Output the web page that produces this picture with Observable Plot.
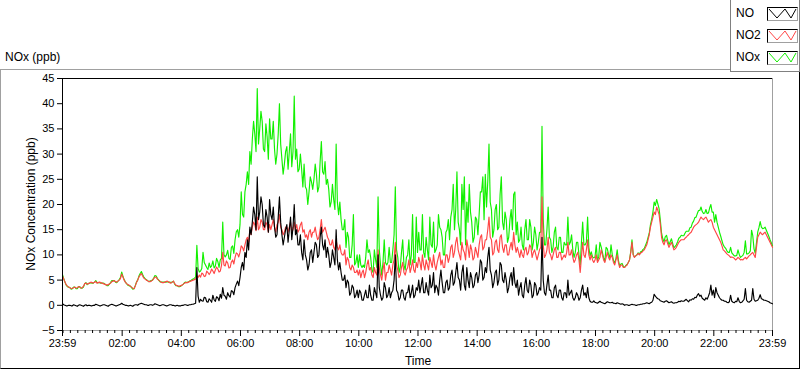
<!DOCTYPE html>
<html><head><meta charset="utf-8">
<script src="https://cdn.jsdelivr.net/npm/d3@7"></script>
<script src="https://cdn.jsdelivr.net/npm/@observablehq/plot@0.6"></script>
<style>
html,body{margin:0;padding:0;background:#fff;}
body{width:800px;height:369px;overflow:hidden;position:relative;font-family:"Liberation Sans",Arial,sans-serif;font-size:11px;color:#000;}
#frame{position:absolute;left:0;top:69px;width:798px;height:298px;border-top:1px solid #a0a0a0;border-left:1px solid #a0a0a0;border-right:1px solid #000;border-bottom:1px solid #000;}
#chart{position:absolute;left:0;top:0;}
#title{position:absolute;left:5px;top:50px;font-size:12px;}
#xlabel{position:absolute;left:418px;top:354px;transform:translateX(-50%);font-size:12px;}
#ylabel{position:absolute;left:31px;top:204px;transform:translate(-50%,-50%) rotate(-90deg);white-space:nowrap;font-size:12px;}
#legend{position:absolute;left:730px;top:-1px;width:68px;height:71px;background:#fff;border:1px solid #808080;}
.row{position:absolute;left:5px;font-size:12px;}
.sw{position:absolute;left:36px;width:29px;height:12px;border:1px solid;border-color:#000 #a0a0a0 #a0a0a0 #000;background:#fff;}
</style></head>
<body>
<div id="frame"></div>
<div id="chart"></div>
<div id="title">NOx (ppb)</div>
<div id="xlabel">Time</div>
<div id="ylabel">NOx Concentration (ppb)</div>
<div id="legend"></div>
<script>
// readings every 2.5 minutes starting 23:59 (ppb), one row per hour
const NO = [
0.3,0.1,0.0,-0.1,-0.1,0.0,0.0,-0.1,-0.1,0.1,0.0,-0.1,-0.2,0.0,0.1,0.0,-0.1,-0.2,0.0,0.1,-0.1,0.0,0.0,-0.1,
-0.1,0.0,0.0,0.2,0.1,0.0,-0.1,-0.1,0.0,0.1,0.1,0.0,-0.1,-0.2,0.0,0.1,0.2,0.1,0.0,-0.1,-0.1,0.0,0.1,0.2,
0.4,0.2,0.1,0.0,0.0,-0.1,-0.1,0.0,-0.1,-0.2,0.0,0.1,0.1,0.0,0.2,0.3,0.4,0.3,0.2,0.1,0.1,0.0,0.0,0.1,
0.1,0.0,0.1,0.3,0.2,0.1,0.0,-0.1,0.0,0.1,0.1,0.0,-0.1,-0.1,0.0,0.1,0.1,0.0,0.0,-0.1,-0.1,0.0,-0.1,-0.1,
-0.1,0.0,0.0,0.1,0.1,0.0,0.0,0.1,0.1,0.2,0.2,0.3,0.4,7.5,1.8,0.6,1.2,0.9,0.8,1.6,1.5,0.7,0.6,1.3,
1.0,0.6,2.0,1.1,0.8,1.7,1.5,0.9,2.2,1.4,3.5,2.0,1.8,1.2,2.5,1.9,1.6,2.9,2.8,2.1,3.5,4.2,4.8,3.9,
5.5,7.5,8.5,7.0,10.5,9.5,13.0,11.0,15.5,14.0,16.5,19.5,18.0,15.0,25.5,17.0,18.5,21.5,20.0,16.0,15.5,19.0,17.5,14.5,
21.0,18.0,17.0,19.5,15.5,13.5,14.0,17.5,21.5,16.5,14.0,12.0,13.5,15.0,16.0,12.5,15.0,17.5,13.0,15.5,20.0,14.0,15.0,12.0,
12.0,14.0,10.5,9.0,13.0,10.0,9.0,7.0,8.0,10.5,11.0,8.5,10.5,12.5,12.0,9.5,10.0,13.5,15.5,12.0,11.0,13.0,9.5,11.5,
10.0,7.5,8.5,11.0,9.5,8.0,15.0,9.0,7.0,8.5,6.5,5.0,5.0,6.0,3.5,5.0,4.5,2.0,2.5,4.0,3.5,1.5,2.0,3.0,
1.5,3.0,2.5,1.0,1.0,2.0,3.0,1.5,1.5,4.0,2.0,1.0,1.0,3.5,2.5,1.5,10.0,3.5,2.0,1.0,1.5,4.5,3.5,1.5,
2.0,3.5,1.5,2.5,3.0,5.0,10.0,3.0,2.5,1.0,1.5,3.0,3.0,1.5,1.0,2.5,2.5,4.0,1.5,2.5,4.0,1.5,2.0,3.5,
3.0,5.0,2.5,4.0,5.5,2.5,2.5,4.5,3.0,2.0,6.0,3.5,4.0,6.5,2.5,4.0,3.5,2.0,5.0,7.0,4.5,2.5,2.5,4.5,
5.0,3.0,3.5,6.0,7.0,4.0,4.5,6.5,8.5,5.5,5.0,3.0,6.5,8.0,4.0,3.0,7.5,5.0,3.5,6.5,5.5,3.5,4.0,6.0,
6.5,4.5,6.0,9.0,8.5,5.0,5.5,7.5,6.5,9.5,11.5,7.0,6.0,3.5,4.5,6.5,7.0,4.0,5.0,8.5,8.0,5.0,4.5,6.5,
5.0,2.5,3.5,5.5,6.5,4.0,7.5,4.5,3.5,5.0,2.0,3.5,4.5,2.0,1.5,4.0,5.5,3.0,2.5,5.0,4.0,1.5,2.0,4.5,
4.0,2.0,2.5,3.5,3.0,13.5,5.0,2.5,2.0,4.0,6.0,3.0,3.0,1.5,1.5,3.5,4.0,2.0,1.5,3.0,3.0,1.5,1.0,2.5,
2.5,1.5,5.0,2.0,2.5,3.0,1.5,1.0,1.5,2.5,2.0,1.0,1.5,3.0,4.0,2.0,2.5,1.5,3.5,1.5,0.8,0.6,0.6,0.9,
0.6,0.5,0.4,0.6,0.8,0.6,0.5,0.4,0.3,0.5,0.7,0.6,0.5,0.5,0.6,0.4,0.4,0.3,0.5,0.4,0.3,0.2,0.3,0.2,
0.0,0.1,0.1,0.0,0.0,0.1,0.2,0.1,0.1,0.0,0.0,0.1,0.1,0.2,0.2,0.3,0.3,0.4,0.5,0.4,0.3,0.5,0.6,1.0,
2.2,1.8,1.5,1.3,1.2,0.9,0.8,0.7,0.6,0.8,0.9,0.7,0.5,0.6,0.7,0.5,0.4,0.5,0.5,0.6,0.8,0.7,0.9,0.8,
0.8,1.0,1.2,0.9,0.7,1.1,1.0,1.3,1.2,1.6,1.5,2.0,2.3,1.8,2.0,1.4,1.2,1.0,1.5,1.2,1.8,2.5,4.0,2.0,
3.0,1.5,3.5,2.5,2.0,1.5,1.2,1.0,1.0,0.8,0.8,0.6,0.5,0.7,2.0,0.8,0.6,0.5,0.8,0.7,1.5,0.8,0.5,0.6,
0.9,1.2,3.3,1.0,0.7,0.6,0.8,1.0,3.3,1.2,0.8,0.9,1.0,1.4,2.1,1.3,1.2,1.0,1.0,0.9,0.8,0.7,0.5,0.4,
0.3];
const NO2 = [
5.8,5.2,4.6,4.1,3.8,3.6,3.5,3.3,3.4,3.5,3.6,3.4,3.5,3.7,3.6,3.4,3.5,3.8,4.3,4.4,4.2,4.3,4.4,4.6,
4.5,4.4,4.6,4.7,4.4,4.5,4.6,4.5,4.4,4.3,4.2,4.1,4.0,4.1,4.2,4.4,4.7,4.8,4.9,4.7,4.6,4.8,5.0,5.3,
6.2,5.6,5.0,4.6,4.3,4.1,4.0,3.8,3.6,3.4,3.3,3.8,4.5,5.0,5.6,6.0,6.3,5.8,5.4,5.2,5.0,4.9,4.7,4.7,
4.8,5.0,5.3,5.6,5.6,5.2,5.0,4.8,4.6,4.5,4.5,4.6,4.7,4.8,4.6,4.5,4.4,4.6,4.8,4.3,4.0,3.9,3.8,3.8,
3.9,4.0,4.2,4.4,4.5,4.5,4.6,4.7,4.8,4.9,5.0,5.1,5.2,5.8,5.5,6.0,5.6,6.4,6.2,5.7,5.8,6.8,6.5,6.1,
6.5,7.2,6.8,6.3,7.0,7.6,7.2,6.6,6.8,7.9,10.5,8.0,7.8,8.8,8.4,7.4,7.5,8.6,9.0,8.2,9.5,10.4,10.2,9.6,
10.5,11.8,11.5,10.8,12.0,13.0,13.5,12.5,15.0,14.0,15.5,16.5,16.0,14.8,17.5,15.0,15.5,17.0,16.5,15.0,15.0,16.5,16.0,14.5,
16.0,15.0,16.0,17.0,15.5,14.5,16.0,16.5,18.0,15.5,15.0,14.0,14.5,15.5,15.5,14.5,15.5,16.5,14.5,15.0,16.5,15.0,16.0,14.5,
15.0,16.0,16.5,14.5,15.0,13.5,14.0,13.0,14.5,15.0,13.5,14.5,14.5,15.5,14.0,13.0,13.5,15.0,17.0,14.5,15.0,15.5,14.5,13.5,
13.0,12.0,12.0,13.0,11.5,11.0,13.0,11.5,11.0,12.0,10.5,10.0,10.0,11.0,8.0,9.5,9.0,7.5,7.0,8.0,7.5,6.5,6.5,7.0,
6.0,7.0,5.5,6.5,7.0,5.5,6.5,8.0,9.0,7.0,7.5,6.0,5.5,7.5,6.5,6.0,11.0,7.5,6.0,5.0,7.0,8.5,5.0,6.5,
6.5,8.0,7.0,6.0,8.0,9.0,12.5,8.0,7.0,5.5,6.0,7.5,8.5,6.5,6.0,7.0,7.5,9.0,6.5,7.5,9.0,7.0,6.5,8.5,
7.5,9.5,8.5,7.0,10.0,8.0,7.0,9.0,8.0,7.0,9.5,8.5,7.5,10.0,8.0,7.0,8.5,9.5,10.5,8.0,9.0,7.5,7.5,10.0,
10.0,8.5,9.5,11.5,12.0,9.5,10.5,12.5,13.5,11.0,10.0,9.0,12.5,11.0,10.5,9.0,13.0,11.5,9.5,12.0,11.0,9.0,9.5,11.5,
10.5,9.5,12.0,13.5,14.0,11.0,11.5,13.0,13.0,15.0,17.5,13.5,13.0,10.0,10.5,12.5,13.0,11.0,10.5,13.5,14.0,11.5,10.5,12.0,
12.0,10.0,10.0,11.5,12.5,11.0,14.5,12.0,10.5,11.5,10.5,9.5,11.0,10.0,9.5,11.0,11.5,10.0,10.5,12.0,11.5,9.5,10.5,11.0,
10.0,9.0,10.0,11.0,11.5,21.5,12.0,9.5,10.0,11.0,13.5,10.5,10.0,9.0,10.0,11.0,11.5,9.5,9.5,10.5,10.5,9.0,9.5,10.0,
9.5,10.5,12.5,10.0,10.0,11.0,9.5,8.5,9.0,10.0,10.5,9.0,6.5,9.5,12.5,10.0,9.5,11.0,13.0,10.0,9.0,10.0,9.0,8.5,
9.0,10.0,8.5,9.0,9.5,11.0,10.0,9.0,8.5,9.5,10.5,9.5,9.0,10.0,9.5,8.5,8.0,9.0,10.0,8.5,7.5,8.0,8.0,7.5,
7.5,7.8,8.0,8.5,9.0,10.5,12.5,10.0,9.5,9.8,10.0,10.3,10.0,10.4,10.5,10.8,11.0,11.5,12.0,13.0,14.0,15.5,16.5,17.5,
18.5,18.0,19.5,18.8,18.0,16.0,13.5,12.5,12.0,12.8,13.0,12.2,11.5,12.0,12.5,11.8,11.0,11.2,11.5,12.0,12.5,12.8,13.0,13.0,
13.0,13.3,13.5,13.8,14.0,14.3,14.5,15.0,15.5,15.8,16.0,16.2,16.5,17.0,17.5,17.2,17.0,17.3,17.5,17.0,16.5,16.8,17.0,16.5,
15.5,15.0,14.5,14.0,13.5,13.0,12.5,11.8,11.0,10.8,10.5,10.2,10.0,9.8,9.5,9.6,9.5,9.3,9.0,9.2,9.5,9.3,9.0,9.1,
9.0,9.3,9.5,9.2,9.5,9.8,10.0,10.3,10.5,10.0,9.5,11.5,13.5,14.0,14.5,14.2,14.0,14.3,14.5,14.0,13.5,13.0,12.5,12.0,
11.5];
const NOx = [
6.1,5.3,4.6,4.0,3.7,3.6,3.5,3.2,3.3,3.6,3.6,3.3,3.3,3.7,3.7,3.4,3.4,3.6,4.3,4.5,4.1,4.3,4.4,4.5,
4.4,4.4,4.6,4.9,4.5,4.5,4.5,4.4,4.4,4.4,4.3,4.1,3.9,3.9,4.2,4.5,4.9,4.9,4.9,4.6,4.5,4.8,5.1,5.5,
6.6,5.8,5.1,4.6,4.3,4.0,3.9,3.8,3.5,3.2,3.3,3.9,4.6,5.0,5.8,6.3,6.7,6.1,5.6,5.3,5.1,4.9,4.7,4.8,
4.9,5.0,5.4,5.9,5.8,5.3,5.0,4.7,4.6,4.6,4.6,4.6,4.6,4.7,4.6,4.6,4.5,4.6,4.8,4.2,3.9,3.9,3.7,3.7,
3.8,4.0,4.2,4.5,4.6,4.5,4.6,4.8,4.9,5.1,5.2,5.4,5.6,11.9,7.3,6.6,6.8,7.3,10.5,8.5,8.0,7.5,7.1,8.4,
7.5,7.8,8.8,7.4,7.8,9.3,8.7,7.5,9.0,9.3,16.5,10.0,9.6,10.0,10.9,9.3,9.1,11.5,11.8,10.3,13.0,14.6,15.0,13.5,
16.0,22.5,18.0,17.5,22.5,24.0,26.5,24.0,30.5,28.0,33.0,36.5,34.0,30.5,43.0,32.0,35.0,38.5,36.5,31.0,30.5,36.0,33.5,29.0,
37.0,33.0,33.0,36.5,31.0,28.0,30.0,34.0,40.0,32.0,29.0,26.0,28.0,30.5,31.5,27.0,30.5,34.0,27.5,30.5,41.5,29.0,31.0,26.5,
27.0,30.0,27.0,23.5,28.0,23.5,23.0,20.0,22.5,25.5,24.5,23.0,25.0,28.0,26.0,22.5,23.5,28.5,32.5,26.5,26.0,28.5,24.0,25.0,
23.0,19.5,20.5,24.0,21.0,19.0,32.0,20.5,18.0,20.5,17.0,15.0,15.0,17.0,11.5,14.5,13.5,9.5,9.5,12.0,18.0,8.0,8.5,10.0,
7.5,10.0,8.0,7.5,8.0,7.5,9.5,13.0,10.5,11.0,9.5,7.0,6.5,11.0,9.0,7.5,21.5,11.0,8.0,6.0,8.5,13.0,8.5,8.0,
8.5,11.5,8.5,8.5,11.0,14.0,23.5,11.0,9.5,6.5,7.5,10.5,13.0,8.0,7.0,9.5,10.0,13.0,8.0,10.0,18.0,8.5,8.5,17.5,
10.5,14.5,11.0,11.0,18.0,10.5,9.5,13.5,11.0,9.0,17.5,12.0,11.5,16.5,10.5,11.0,12.0,18.0,15.5,15.0,13.5,10.0,10.0,14.5,
15.0,17.0,13.0,17.5,19.0,24.0,15.0,19.0,26.5,16.5,15.0,12.0,24.0,19.0,25.5,12.0,20.5,16.5,24.0,18.5,16.5,12.5,13.5,17.5,
17.0,14.0,18.0,22.5,22.5,25.5,17.0,26.0,19.5,24.5,32.0,20.5,19.0,13.5,15.0,19.0,20.0,15.0,15.5,22.0,25.5,16.5,15.0,18.5,
17.0,12.5,13.5,17.0,19.0,15.0,22.0,22.5,14.0,16.5,12.5,13.0,15.5,12.0,11.0,15.0,17.0,13.0,13.0,17.0,15.5,11.0,12.5,15.5,
14.0,11.0,12.5,14.5,14.5,35.5,17.0,12.0,12.0,15.0,19.5,13.5,13.0,10.5,11.5,14.5,15.5,11.5,11.0,13.5,13.5,10.5,10.5,12.5,
12.0,12.0,17.5,12.0,12.5,14.0,11.0,9.5,10.5,12.5,12.5,10.0,8.0,12.5,16.5,12.0,12.0,12.5,17.5,11.5,9.8,10.6,9.6,9.4,
9.6,12.0,8.9,9.6,12.5,11.6,10.5,9.4,8.8,11.5,11.2,10.1,9.5,12.0,10.1,8.9,8.4,9.3,11.0,8.9,7.8,8.2,8.3,7.7,
7.5,7.9,8.1,8.5,9.0,10.6,13.0,10.1,9.6,9.8,10.0,10.4,10.1,10.6,10.7,11.1,11.3,11.9,12.5,13.4,14.3,16.0,17.1,18.5,
20.5,19.8,21.0,20.1,19.2,16.9,14.3,13.2,12.6,13.6,13.9,12.9,12.0,12.6,13.2,12.3,11.4,11.7,12.0,12.6,13.3,13.5,13.9,13.8,
13.8,14.3,14.7,14.7,14.7,15.4,15.5,16.3,16.7,17.4,17.5,18.2,18.8,18.8,19.5,18.6,18.2,18.3,19.0,18.2,18.3,19.3,20.0,18.5,
18.5,16.5,18.0,16.5,15.5,14.5,13.7,12.8,12.0,11.6,11.3,10.8,10.5,10.5,11.5,10.4,10.1,9.8,9.8,9.9,11.0,10.1,9.5,9.7,
9.9,10.5,12.8,10.2,10.2,10.4,10.8,14.9,13.8,11.2,10.3,12.4,14.5,15.4,16.6,15.5,15.2,15.3,15.5,14.9,14.3,13.7,13.0,12.4,
11.8];
const seriesNames = ["NO", "NO2", "NOx"];
const xTickLabels = ["23:59","02:00","04:00","06:00","08:00","10:00","12:00","14:00","16:00","18:00","20:00","22:00","23:59"];
const yTicks = [-5, 0, 5, 10, 15, 20, 25, 30, 35, 40, 45];
const sampleMinutes = 2.5;

const colors = {NO: "#000000", NO2: "#ff4646", NOx: "#12f000"};
const start = new Date(Date.UTC(2000, 0, 1, 23, 59));
const end = new Date(Date.UTC(2000, 0, 2, 23, 59));
const times = NO.map((_, i) => new Date(start.getTime() + i * sampleMinutes * 60000));
const majorTicks = xTickLabels.map((s, i) => {
  if (i === 0) return start;
  if (i === xTickLabels.length - 1) return end;
  const [h, m] = s.split(":").map(Number);
  return new Date(Date.UTC(2000, 0, 2, h, m));
});
const majorSet = new Set(majorTicks.map(d => +d));
const minorTicks = d3.utcMinute.every(15).range(start, end).filter(d => !majorSet.has(+d));
const labelFor = d => xTickLabels[majorTicks.findIndex(t => +t === +d)];

const series = {NO, NO2, NOx};
const chart = Plot.plot({
  width: 800, height: 369,
  marginLeft: 62, marginRight: 28, marginTop: 78, marginBottom: 39,
  style: {fontFamily: '"Liberation Sans", Arial, sans-serif', fontSize: "11px", background: "transparent", color: "#000"},
  x: {type: "utc", domain: [start, end], axis: null},
  y: {domain: [-5, 45], axis: null},
  marks: [
    Plot.ruleY([-5], {stroke: "#a0a0a0"}),
    Plot.ruleX([end], {stroke: "#a0a0a0"}),
    ...["NOx", "NO2", "NO"].map(k => Plot.line(series[k], {x: (d, i) => times[i], y: d => d, stroke: colors[k], strokeWidth: 1.15})),
    Plot.ruleY([45], {stroke: "#000"}),
    Plot.ruleX([start], {stroke: "#000"}),
    Plot.axisY({ticks: yTicks, tickSize: 5, tickPadding: 3, label: null, stroke: "#000", fill: "#000"}),
    Plot.axisX({ticks: minorTicks, tickSize: 3, tickFormat: () => "", label: null, stroke: "#000"}),
    Plot.axisX({ticks: majorTicks, tickSize: 6, tickPadding: 3, tickFormat: labelFor, label: null, stroke: "#000", fill: "#000"})
  ]
});
document.getElementById("chart").appendChild(chart);

// legend
const legend = document.getElementById("legend");
const rowTops = [6, 28, 50];
seriesNames.forEach((name, i) => {
  const t = document.createElement("div");
  t.className = "row"; t.style.top = rowTops[i] + "px"; t.textContent = name;
  legend.appendChild(t);
  const s = document.createElement("div");
  s.className = "sw"; s.style.top = (rowTops[i] + 1) + "px";
  s.innerHTML = `<svg width="29" height="12"><polyline points="1,1 9,10 17,1 23,10 28,1" fill="none" stroke="${colors[name]}" stroke-width="1"/></svg>`;
  legend.appendChild(s);
});
</script>
</body></html>
